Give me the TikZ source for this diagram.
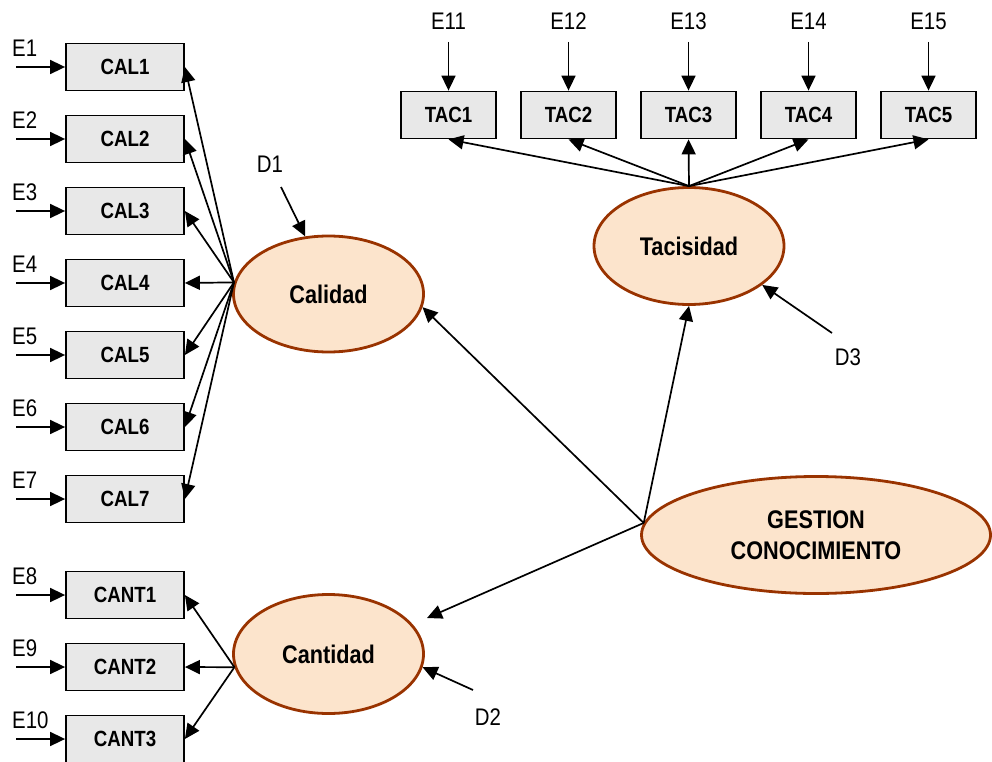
\documentclass[tikz,border=0pt]{standalone}
\usepackage{fontspec}
\setmainfont{Liberation Sans}[FakeStretch=0.85]
\usepackage{tikz}
\usetikzlibrary{
  arrows.meta,
  shapes.geometric,
}
\definecolor{semPeach}{RGB}{252, 228, 204}
\definecolor{semRust} {RGB}{153,  51,   0}
\definecolor{semGrey} {RGB}{232, 232, 232}

\begin{document}
\begin{tikzpicture}[
  x=1pt, y=-1pt,
  item/.style={draw, line width=1.8pt, fill=semGrey, inner sep=0pt,
    minimum width=118pt, minimum height=47pt,
    font=\fontsize{22}{24}\selectfont\bfseries},
  tacitem/.style={item, minimum width=95pt},
  latent/.style={ellipse, draw=semRust, line width=2.8pt, fill=semPeach,
    inner sep=0pt, align=center,
    font=\fontsize{25.5}{31}\selectfont\bfseries},
  err/.style={inner sep=0pt, font=\fontsize{24}{26}\selectfont},
  path/.style={line width=1.7pt, -{Triangle[length=15pt,width=14pt]}},
]
  % Scale: 1pt = 1px, y grows downwards
  \useasboundingbox (0,0) rectangle (992,762);

  % Latent variables
  \node[latent, minimum width=190pt, minimum height=116pt] (calidad)   at (328.5,294) {Calidad};
  \node[latent, minimum width=190pt, minimum height=117pt] (tacisidad) at (689,246)   {Tacisidad};
  \node[latent, minimum width=190pt, minimum height=119pt] (cantidad)  at (328.5,654) {Cantidad};
  \node[latent, minimum width=349pt, minimum height=117pt] (gestion)   at (816,535)   {GESTION\\CONOCIMIENTO};

  % Calidad indicators, 72px apart
  \foreach \i in {1,...,7} {
    \pgfmathsetmacro{\yc}{67 + (\i-1)*72}
    \node[item] (cal\i) at (125,\yc) {CAL\i};
    \node[err, anchor=west] (ecal\i) at (12,\yc-19) {E\i};
    \coordinate (scal\i) at (16,\yc);
    \draw[path] (scal\i) -- (cal\i.west);
    \draw[path] (calidad.173) -- (cal\i.east);
  }

  % Cantidad indicators
  \foreach \i in {1,2,3} {
    \pgfmathsetmacro{\yc}{595 + (\i-1)*72}
    \pgfmathtruncatemacro{\e}{\i + 7}
    \node[item] (cant\i) at (125,\yc) {CANT\i};
    \node[err, anchor=west] (ecant\i) at (12,\yc-19) {E\e};
    \coordinate (scant\i) at (16,\yc);
    \draw[path] (scant\i) -- (cant\i.west);
    \draw[path] (cantidad.188) -- (cant\i.east);
  }

  % Tacisidad indicators along the top
  \foreach \i in {1,...,5} {
    \pgfmathsetmacro{\xc}{448.5 + (\i-1)*120}
    \pgfmathtruncatemacro{\e}{\i + 10}
    \node[tacitem] (tac\i) at (\xc,115) {TAC\i};
    \node[err] (etac\i) at (\xc,21) {E\e};
    \coordinate (stac\i) at (\xc,42);
    \draw[path] (stac\i) -- (tac\i.north);
    \draw[path] (tacisidad.north) -- (tac\i.south);
  }

  % Structural paths
  \coordinate (cantin) at (427,618);
  \draw[path] (gestion.176) -- (calidad.352);
  \draw[path] (gestion.176) -- (tacisidad.south);
  \draw[path] (gestion.176) -- (cantin);

  % Disturbances
  \node[err] (d1) at (270,164) {D1};
  \coordinate (sd1) at (281,187);
  \draw[path] (sd1) -- (calidad.112);

  \node[err] (d3) at (848,357) {D3};
  \coordinate (sd3) at (832,333);
  \draw[path] (sd3) -- (tacisidad.332);

  \node[err] (d2) at (488,717) {D2};
  \coordinate (sd2) at (473,690);
  \draw[path] (sd2) -- (cantidad.352);

\end{tikzpicture}
\end{document}
